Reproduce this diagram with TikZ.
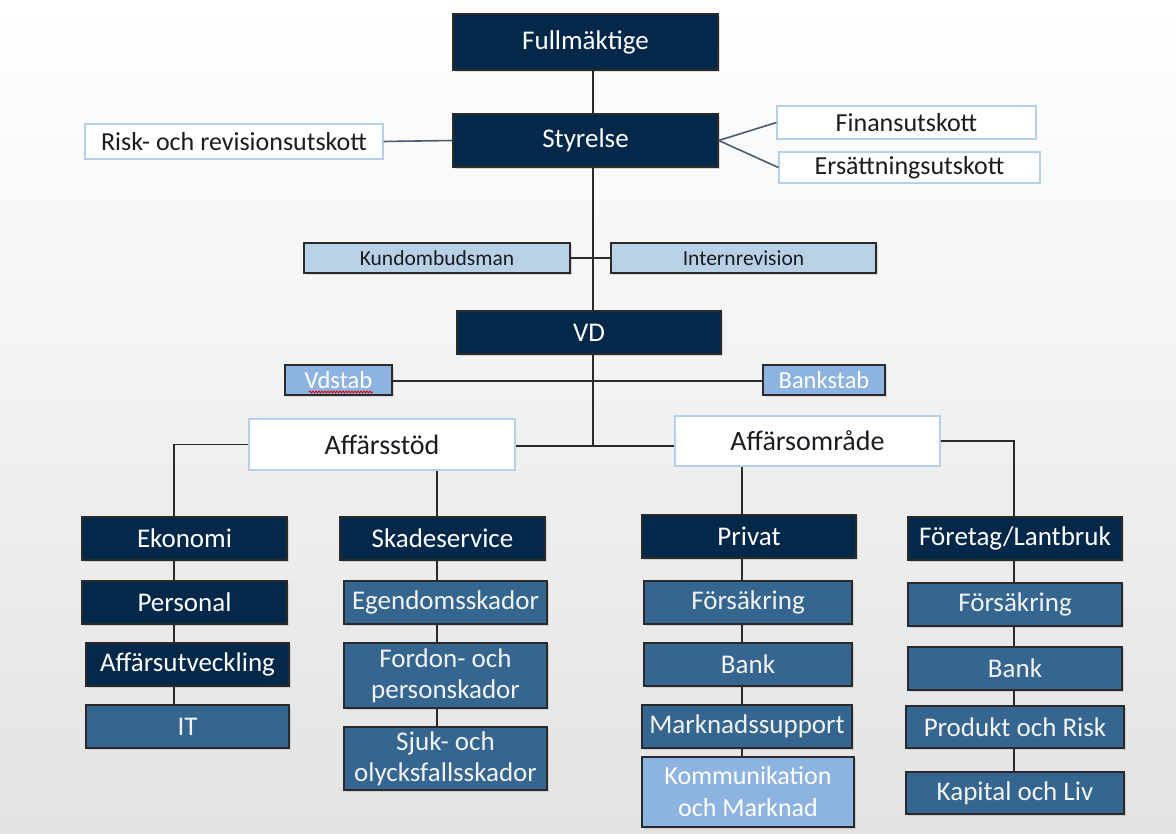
\documentclass[tikz,border=0pt]{standalone}
\usepackage{fontspec}
\setmainfont{Carlito}
\usetikzlibrary{shadows,decorations.pathmorphing}
\definecolor{navy}{HTML}{03284A}
\definecolor{midblue}{HTML}{356690}
\definecolor{paleblue}{HTML}{B8D1E6}
\definecolor{skyblue}{HTML}{8DB3E0}
\definecolor{lightedge}{HTML}{B6D0E8}
\definecolor{conn}{HTML}{2A2A2A}
\definecolor{slate}{HTML}{465C74}
\definecolor{darktext}{HTML}{1B1B22}
\tikzset{
  box/.style={draw=conn, line width=1.4pt, inner sep=0pt, align=center,
    drop shadow={shadow xshift=2pt, shadow yshift=-2pt, opacity=0.25, fill=gray}},
  navybox/.style={box, fill=navy, text=white, font=\fontsize{27}{31}\selectfont},
  midbox/.style={box, fill=midblue, text=white!95!black, font=\fontsize{27}{31}\selectfont},
  palebox/.style={box, fill=paleblue, text=darktext, font=\fontsize{21.5}{24}\selectfont},
  skybox/.style={box, fill=skyblue, text=white, font=\fontsize{24.5}{28}\selectfont},
  whitebox/.style={draw=lightedge, line width=1.2pt, fill=white, inner sep=0pt, align=center,
    text=darktext, font=\fontsize{26}{29}\selectfont},
  link/.style={draw=conn, line width=1.6pt},
  slink/.style={draw=slate, line width=1.6pt},
}
\begin{document}
\begin{tikzpicture}[x=1pt,y=-1pt]
\shade[top color=white, bottom color=black!11] (0,0) rectangle (1176,834);
\useasboundingbox (0,0) rectangle (1176,834);

\coordinate (spine) at (593,0);
\coordinate (J) at (593,446);
\coordinate (c1) at (174,0);
\coordinate (c2) at (437,0);
\coordinate (c3) at (742,0);
\coordinate (c4) at (1014,0);

\node[navybox, minimum width=265pt, minimum height=56pt] (full) at (585.5,42) {Fullmäktige};
\node[navybox, minimum width=265pt, minimum height=53pt] (sty) at (585.5,140.5) {Styrelse};
\node[whitebox, minimum width=298pt, minimum height=35pt] (risk) at (234,141.5) {Risk- och revisionsutskott};
\node[whitebox, minimum width=259pt, minimum height=33pt] (fin) at (906.5,122.5) {Finansutskott};
\node[whitebox, minimum width=261pt, minimum height=31pt] (ers) at (909.5,167.5) {Ersättningsutskott};
\node[palebox, minimum width=266pt, minimum height=30pt] (kund) at (437,258) {Kundombudsman};
\node[palebox, minimum width=265pt, minimum height=30pt] (intern) at (743.5,258) {Internrevision};
\node[navybox, minimum width=264pt, minimum height=43pt] (vd) at (589,332.5) {VD};
\node[skybox, minimum width=107pt, minimum height=30pt] (vdstab) at (338.5,380) {Vdstab};
\node[skybox, minimum width=122pt, minimum height=30pt] (bank) at (824,380) {Bankstab};
\node[whitebox, minimum width=266pt, minimum height=51pt, font=\fontsize{28}{31}\selectfont] (stod) at (382,444.5) {Affärsstöd};
\node[whitebox, minimum width=265pt, minimum height=50pt, font=\fontsize{28}{31}\selectfont] (omr) at (807.5,441) {Affärsområde};

\node[navybox, minimum width=205pt, minimum height=43pt] (eko) at (184.5,538.5) {Ekonomi};
\node[navybox, minimum width=205pt, minimum height=43pt] (per) at (184.5,602.5) {Personal};
\node[navybox, minimum width=203pt, minimum height=43pt] (aff) at (187.5,664.5) {Affärsutveckling};
\node[midbox, minimum width=203pt, minimum height=43pt] (it) at (187.5,726.5) {IT};

\node[navybox, minimum width=205pt, minimum height=43pt] (skade) at (442.5,538.5) {Skadeservice};
\node[midbox, minimum width=203pt, minimum height=43pt] (egen) at (445.5,602.5) {Egendomsskador};
\node[midbox, minimum width=203pt, minimum height=65pt] (fordon) at (445.5,675.5) {Fordon- och\\personskador};
\node[midbox, minimum width=203pt, minimum height=63pt] (sjuk) at (445.5,758.5) {Sjuk- och\\olycksfallsskador};

\node[navybox, minimum width=214pt, minimum height=43pt] (priv) at (749,536.5) {Privat};
\node[midbox, minimum width=208pt, minimum height=43pt] (pf) at (748,602.5) {Försäkring};
\node[midbox, minimum width=208pt, minimum height=43pt] (pb) at (748,664.5) {Bank};
\node[midbox, minimum width=210pt, minimum height=43pt] (mark) at (747,726.5) {Marknadssupport};
\node[skybox, minimum width=212pt, minimum height=70pt, font=\fontsize{26}{32}\selectfont] (komm) at (748,792) {Kommunikation\\och Marknad};

\node[navybox, minimum width=214pt, minimum height=43pt] (fore) at (1015,538.5) {Företag/Lantbruk};
\node[midbox, minimum width=214pt, minimum height=43pt] (ff) at (1015,604.5) {Försäkring};
\node[midbox, minimum width=214pt, minimum height=43pt] (fb) at (1015,668.5) {Bank};
\node[midbox, minimum width=218pt, minimum height=42pt] (prod) at (1015,727) {Produkt och Risk};
\node[midbox, minimum width=218pt, minimum height=42pt] (kap) at (1015,793) {Kapital och Liv};

\draw[red!85!black, line width=0.8pt, decorate, decoration={snake, amplitude=1pt, segment length=3pt}]
  (309,392) -- (373,392);

\draw[link] (full.south -| spine) -- (sty.north -| spine);
\draw[link] (sty.south -| spine) -- (vd.north -| spine);
\draw[link] (kund.east) -- (intern.west);
\draw[slink] (risk.east) -- (sty.west);
\draw[slink] (sty.east) -- (fin.west);
\draw[slink] (sty.east) -- (ers.west);
\draw[link] (vdstab.east |- 0,381) -- (bank.west |- 0,381);
\draw[link] (vd.south -| spine) -- (J);
\draw[link] (stod.east |- J) -- (omr.west |- J);
\draw[link] (stod.west) -| (eko.north -| c1);
\draw[link] (stod.south -| c2) -- (skade.north -| c2);
\draw[link] (omr.south -| c3) -- (priv.north -| c3);
\draw[link] (omr.east) -| (fore.north -| c4);

\draw[link] (eko.south -| c1) -- (per.north -| c1);
\draw[link] (per.south -| c1) -- (aff.north -| c1);
\draw[link] (aff.south -| c1) -- (it.north -| c1);

\draw[link] (skade.south -| c2) -- (egen.north -| c2);
\draw[link] (egen.south -| c2) -- (fordon.north -| c2);
\draw[link] (fordon.south -| c2) -- (sjuk.north -| c2);

\draw[link] (priv.south -| c3) -- (pf.north -| c3);
\draw[link] (pf.south -| c3) -- (pb.north -| c3);
\draw[link] (pb.south -| c3) -- (mark.north -| c3);
\draw[link] (mark.south -| c3) -- (komm.north -| c3);

\draw[link] (fore.south -| c4) -- (ff.north -| c4);
\draw[link] (ff.south -| c4) -- (fb.north -| c4);
\draw[link] (fb.south -| c4) -- (prod.north -| c4);
\draw[link] (prod.south -| c4) -- (kap.north -| c4);
\end{tikzpicture}
\end{document}
